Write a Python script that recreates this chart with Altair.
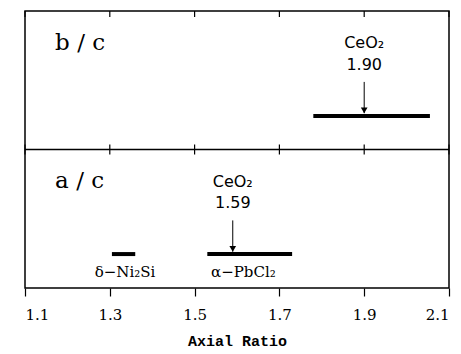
import altair as alt
import pandas as pd

# ---- data ----
tick_values = [1.1, 1.3, 1.5, 1.7, 1.9, 2.1]

bar_names = ["CeO2 b/c", "δ-Ni2Si", "α-PbCl2"]
bar_start = [1.78, 1.305, 1.53]
bar_end = [2.055, 1.36, 1.73]
bar_level = [1.242, 0.245, 0.245]

ceo2_values = [1.90, 1.59]
ceo2_text = ["1.90", "1.59"]
ceo2_panel = [1.0, 0.0]          # panel offset (top panel = 1, bottom = 0)

panel_labels = ["b / c", "a / c"]
panel_offset = [1.0, 0.0]

phase_labels = ["δ−Ni₂Si", "α−PbCl₂"]
phase_x = [1.336, 1.615]

# ---- geometry ----
W, H = 424, 277
unit = H / 2.0                     # pixels per panel unit
top_tick = 6 / unit
mid_tick = 5 / unit

xscale = alt.Scale(domain=[1.1, 2.1], nice=False, zero=False)
yscale = alt.Scale(domain=[0, 2], nice=False, zero=False)
xaxis = alt.Axis(values=tick_values, format=".1f", tickSize=8, tickColor="black",
                 tickWidth=1.2, domain=False, grid=False,
                 labelFont="DejaVu Serif", labelFontSize=15, labelColor="black",
                 labelPadding=11, title="Axial Ratio", titleFont="Liberation Mono",
                 titleFontWeight="bold", titleFontSize=15, titleColor="black",
                 titlePadding=11)


def X(f):
    return alt.X(f, type="quantitative", scale=xscale, axis=xaxis, title="Axial Ratio")


def Y(f):
    return alt.Y(f, type="quantitative", scale=yscale, axis=None)


# tick rules (top edge inward, middle divider crossing)
tick_rows = []
for t in tick_values:
    tick_rows.append({"x": t, "y0": 2 - top_tick, "y1": 2.0})
    tick_rows.append({"x": t, "y0": 1 - mid_tick, "y1": 1 + mid_tick})
ticks_df = pd.DataFrame(tick_rows)

ticks = alt.Chart(ticks_df).mark_rule(color="black", strokeWidth=1.2).encode(
    x=X("x"), y=Y("y0"), y2="y1")

divider = alt.Chart(pd.DataFrame({"x0": [1.1], "x1": [2.1], "y": [1.0]})).mark_rule(
    color="black", strokeWidth=1.5).encode(x=X("x0"), x2="x1", y=Y("y"))

bars_df = pd.DataFrame({"name": bar_names, "start": bar_start, "end": bar_end, "y": bar_level})
bars = alt.Chart(bars_df).mark_rule(color="black", strokeWidth=4).encode(
    x=X("start"), x2="end", y=Y("y"))

arrow_df = pd.DataFrame({
    "x": ceo2_values,
    "top": [p + 0.488 for p in ceo2_panel],
    "bottom": [p + 0.262 for p in ceo2_panel],
    "head": [p + 0.283 for p in ceo2_panel],
    "name_y": [p + 0.767 for p in ceo2_panel],
    "val_y": [p + 0.613 for p in ceo2_panel],
    "text": ceo2_text,
    "name": ["CeO₂", "CeO₂"],
})
arrow_line = alt.Chart(arrow_df).mark_rule(color="black", strokeWidth=1).encode(
    x=X("x"), y=Y("top"), y2="bottom")
arrow_head = alt.Chart(arrow_df).mark_point(
    shape="triangle-down", filled=True, color="black", size=45, opacity=1).encode(
    x=X("x"), y=Y("head"))
ceo2_name = alt.Chart(arrow_df).mark_text(
    font="DejaVu Sans", fontSize=16, color="black", align="center", baseline="middle").encode(
    x=X("x"), y=Y("name_y"), text="name:N")
ceo2_val = alt.Chart(arrow_df).mark_text(
    font="DejaVu Sans", fontSize=16, color="black", align="center", baseline="middle").encode(
    x=X("x"), y=Y("val_y"), text="text:N")

panel_df = pd.DataFrame({"label": panel_labels, "x": [1.171, 1.171],
                         "y": [o + 0.77 for o in panel_offset]})
panel_text = alt.Chart(panel_df).mark_text(
    font="DejaVu Serif", fontSize=23, color="black", align="left", baseline="middle").encode(
    x=X("x"), y=Y("y"), text="label:N")

phase_df = pd.DataFrame({"label": phase_labels, "x": phase_x, "y": [0.116, 0.116]})
phase_text = alt.Chart(phase_df).mark_text(
    font="DejaVu Serif", fontSize=15, color="black", align="center", baseline="middle").encode(
    x=X("x"), y=Y("y"), text="label:N")

chart = alt.layer(
    ticks, divider, bars, arrow_line, arrow_head, ceo2_name, ceo2_val, panel_text, phase_text
).properties(
    width=W, height=H,
    autosize=alt.AutoSizeParams(type="none"),
    padding={"left": 25, "top": 11, "right": 12, "bottom": 66},
    background="white",
).configure_view(stroke="black", strokeWidth=1.5)

chart.save("out.html", embed_options={"renderer": "svg", "actions": False})
